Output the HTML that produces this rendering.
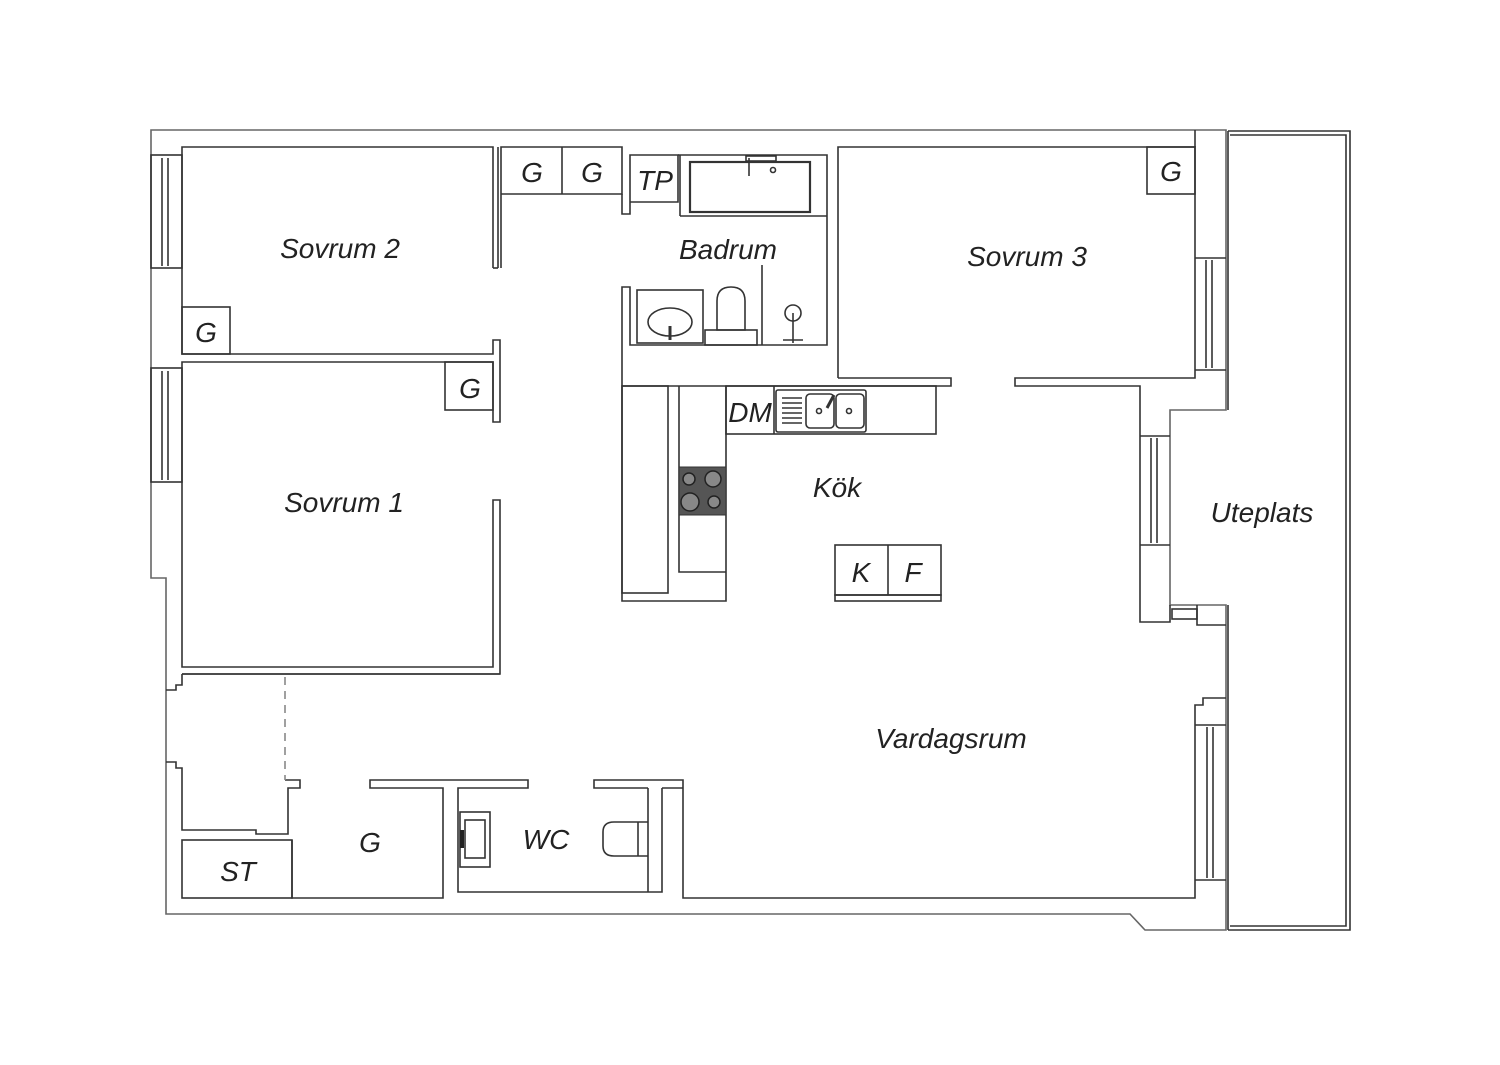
<!DOCTYPE html>
<html><head><meta charset="utf-8"><style>
body{margin:0;background:#fff;width:1500px;height:1060px;overflow:hidden}
text{font-family:"Liberation Sans",sans-serif;font-style:italic;fill:#222}
</style></head><body>
<svg width="1500" height="1060" viewBox="0 0 1500 1060" xmlns="http://www.w3.org/2000/svg">
<g fill="none" stroke="#333" stroke-width="1.6">
<!-- outer -->
<path d="M151 130 H1226 V410 H1170 V605 H1226 V930 H1145 L1130 914 H166 V578 H151 Z" stroke="#666"/>
<path d="M1228 131 H1350 V930 H1228"/>
<path d="M1230 135 H1346 V926 H1230"/>
<line x1="1228" y1="131" x2="1228" y2="410"/>
<line x1="1228" y1="605" x2="1228" y2="930"/>
<!-- left windows -->
<rect x="151" y="155" width="31" height="113"/><line x1="162" y1="158" x2="162" y2="266"/><line x1="168" y1="158" x2="168" y2="266"/>
<rect x="151" y="368" width="31" height="114"/><line x1="162" y1="371" x2="162" y2="480"/><line x1="168" y1="371" x2="168" y2="480"/>
<!-- Sovrum 2 -->
<path d="M493 268 V147 H182 V354 H493 V340 H500 V422 H493 V362 H182 V667 H493 V500 H500 V674 H182"/>
<path d="M498 268 V147"/><path d="M493 268 H498"/>
<rect x="182" y="307" width="48" height="47"/>
<rect x="445" y="362" width="48" height="48"/>
<!-- closets -->
<path d="M501 268 V147 H622 V194 H501"/><line x1="562" y1="147" x2="562" y2="194"/>
<path d="M622 194 V214 H630 V155 H678 V202 H630"/>
<!-- bath -->
<path d="M678 155 H827 V345 H630 V287 H622 V386"/>
<path d="M680 216 H827"/><path d="M680 155 V216"/>
<rect x="690" y="162" width="120" height="50" stroke-width="2.2"/>
<rect x="746" y="156" width="30" height="5"/><line x1="749" y1="158" x2="749" y2="176"/><circle cx="773" cy="170" r="2.5"/>
<rect x="637" y="290" width="66" height="53"/><ellipse cx="670" cy="322" rx="22" ry="14"/><line x1="670" y1="326" x2="670" y2="340" stroke-width="3"/>
<path d="M717 330 V301 Q717 287 731 287 Q745 287 745 301 V330 Z"/><rect x="705" y="330" width="52" height="15"/>
<line x1="762" y1="265" x2="762" y2="345"/>
<circle cx="793" cy="313" r="8"/><line x1="793" y1="313" x2="793" y2="343"/><line x1="783" y1="340" x2="803" y2="340"/>
<!-- Sovrum 3 -->
<path d="M838 378 V147 H1195 V378 H1015 V386 H1140 V622 H1170 V605"/>
<path d="M838 378 H951 V386 H622"/>
<rect x="1147" y="147" width="48" height="47"/>
<path d="M1195 258 H1226 M1195 370 H1226"/><line x1="1206" y1="260" x2="1206" y2="368"/><line x1="1212" y1="260" x2="1212" y2="368"/>
<path d="M1195 147 V130"/>
<path d="M1140 436 H1170 M1140 545 H1170"/><line x1="1151" y1="438" x2="1151" y2="543"/><line x1="1157" y1="438" x2="1157" y2="543"/>
<rect x="1172" y="609" width="25" height="10"/><path d="M1197 605 V625 H1226"/>
<path d="M1226 698 H1203 V705 H1195 V898 H683 V780 H594 V788 H648 M662 788 H683"/>
<path d="M1195 725 H1226 M1195 880 H1226"/><line x1="1207" y1="727" x2="1207" y2="878"/><line x1="1213" y1="727" x2="1213" y2="878"/>
<!-- kitchen -->
<path d="M622 386 V601 H726 V386"/>
<rect x="622" y="386" width="46" height="207"/>
<path d="M679 386 V572 H726"/>
<rect x="726" y="386" width="210" height="48"/><line x1="774" y1="386" x2="774" y2="434"/>
<rect x="776" y="390" width="90" height="42" rx="2"/>
<rect x="806" y="394" width="28" height="34" rx="4"/><rect x="836" y="394" width="28" height="34" rx="4"/>
<path d="M782 398 H802 M782 403 H802 M782 408 H802 M782 413 H802 M782 418 H802 M782 423 H802"/>
<circle cx="819" cy="411" r="2.5"/><circle cx="849" cy="411" r="2.5"/><line x1="827" y1="408" x2="834" y2="395" stroke-width="3"/>
<rect x="835" y="545" width="106" height="50"/><line x1="888" y1="545" x2="888" y2="595"/><rect x="835" y="595" width="106" height="6"/>
<!-- bottom left -->
<path d="M182 674 H500 M182 674 V685 H176 V690 H166"/>
<path d="M166 762 H176 V768 H182 V830 H256 V834 H288 V788 H300 V780 H285"/>
<line x1="285" y1="677" x2="285" y2="780" stroke-dasharray="8 6" stroke="#888"/>
<rect x="182" y="840" width="110" height="58"/>
<path d="M292 840 V898 H443 V788 H370 V780 H528 V788 H458 V892 H662 V788"/>
<path d="M648 788 V892"/>
<rect x="460" y="812" width="30" height="55"/><rect x="465" y="820" width="20" height="38"/>
<path d="M648 822 H614 Q603 822 603 832 V846 Q603 856 614 856 H648"/><line x1="638" y1="822" x2="638" y2="856"/>
</g>
<rect x="679" y="467" width="47" height="48" fill="#555" stroke="#333"/>
<g fill="#888" stroke="#222" stroke-width="1.5"><circle cx="689" cy="479" r="6"/><circle cx="713" cy="479" r="8"/><circle cx="690" cy="502" r="9"/><circle cx="714" cy="502" r="6"/></g>
<rect x="460" y="830" width="4" height="18" fill="#222"/>
<g font-size="28" text-anchor="middle">
<text x="340" y="258">Sovrum 2</text>
<text x="344" y="512">Sovrum 1</text>
<text x="728" y="259">Badrum</text>
<text x="1027" y="266">Sovrum 3</text>
<text x="837" y="497">Kök</text>
<text x="1262" y="522">Uteplats</text>
<text x="951" y="748">Vardagsrum</text>
<text x="546" y="849">WC</text>
<text x="370" y="852">G</text>
<text x="238" y="881">ST</text>
<text x="532" y="182">G</text>
<text x="592" y="182">G</text>
<text x="655" y="190">TP</text>
<text x="1171" y="181">G</text>
<text x="206" y="342">G</text>
<text x="470" y="398">G</text>
<text x="750" y="422">DM</text>
<text x="861" y="582">K</text>
<text x="913" y="582">F</text>
</g>
</svg>
</body></html>
